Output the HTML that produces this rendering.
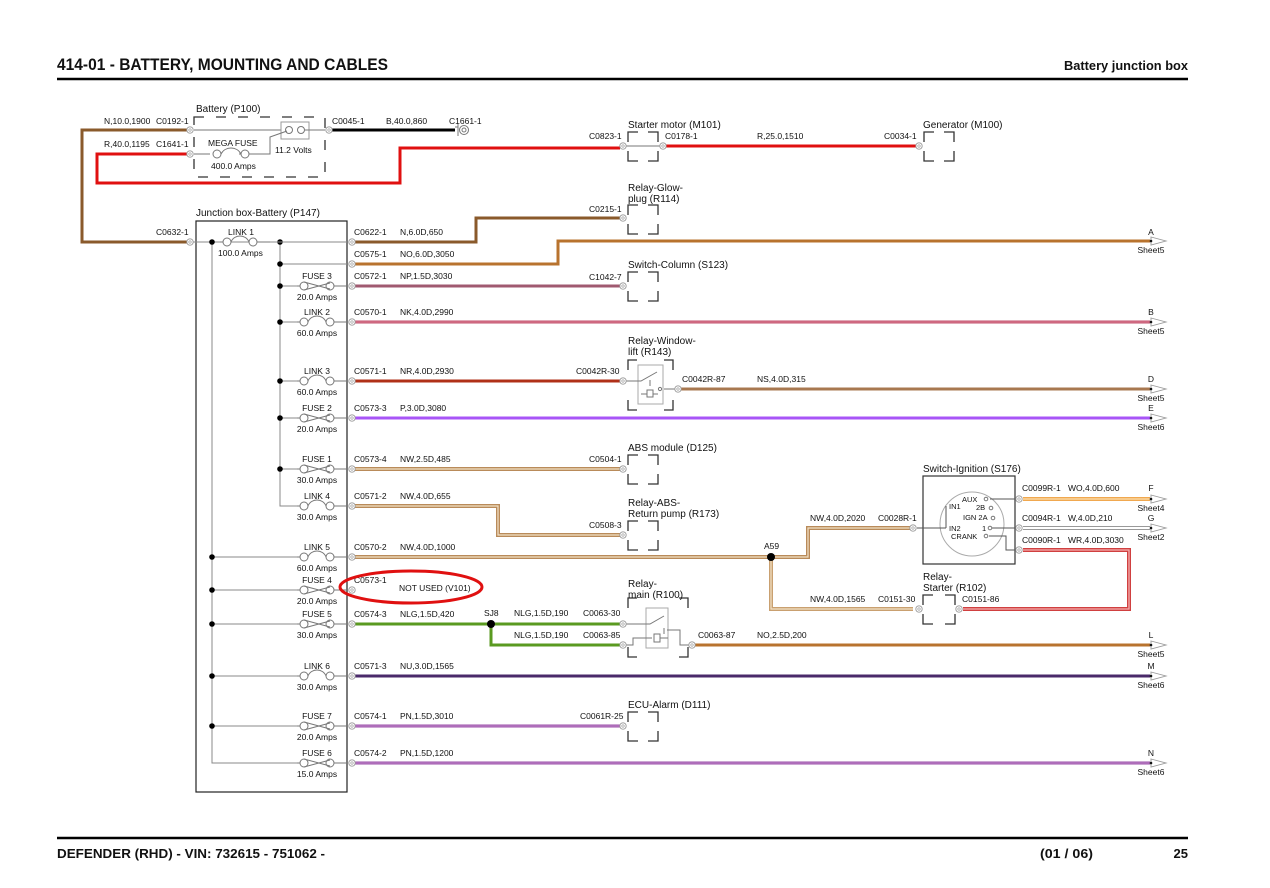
<!DOCTYPE html>
<html><head><meta charset="utf-8"><style>
html,body{margin:0;padding:0;background:#fff;}
svg{display:block;}
text{font-family:"Liberation Sans",sans-serif;fill:#111;}
.s{font-size:8.5px;}
.m{font-size:10px;}
.t{font-size:7.5px;}
.b{font-weight:bold;}
</style></head><body>
<svg width="1270" height="888" viewBox="0 0 1270 888" xmlns="http://www.w3.org/2000/svg">
<defs>
<g id="cn"><circle r="3.2" fill="#fff" stroke="#999" stroke-width="0.9"/><circle r="1.2" fill="none" stroke="#999" stroke-width="0.7"/></g>
<g id="fu"><line x1="-20" y1="0" x2="-17" y2="0" stroke="#777"/><circle cx="-13" cy="0" r="4" fill="#fff" stroke="#777"/><circle cx="13" cy="0" r="4" fill="#fff" stroke="#777"/><path d="M-13,-4 L13,3 M-13,4 L13,-3" stroke="#777" fill="none"/><line x1="17" y1="0" x2="30" y2="0" stroke="#777"/></g>
<g id="lk"><line x1="-20" y1="0" x2="-17" y2="0" stroke="#777"/><circle cx="-13" cy="0" r="4" fill="#fff" stroke="#777"/><circle cx="13" cy="0" r="4" fill="#fff" stroke="#777"/><path d="M-9,0 C-6,-8 6,-8 9,0" stroke="#777" fill="none"/><line x1="17" y1="0" x2="30" y2="0" stroke="#777"/></g>
<g id="ar"><path d="M0,-4 L15,0 L0,4 Z" fill="#fff" stroke="#999" stroke-width="0.9"/><circle r="1.3" fill="#111"/></g>
</defs>

<!-- header -->
<text x="57" y="70" font-size="17" class="b" textLength="331" lengthAdjust="spacingAndGlyphs">414-01 - BATTERY, MOUNTING AND CABLES</text>
<text x="1188" y="70" font-size="13" class="b" text-anchor="end" textLength="124" lengthAdjust="spacingAndGlyphs">Battery junction box</text>
<line x1="57" y1="79" x2="1188" y2="79" stroke="#000" stroke-width="2.6"/>
<!-- footer -->
<line x1="57" y1="838" x2="1188" y2="838" stroke="#000" stroke-width="2.6"/>
<text x="57" y="858" font-size="13" class="b" textLength="268" lengthAdjust="spacingAndGlyphs">DEFENDER  (RHD) - VIN: 732615 - 751062 -</text>
<text x="1040" y="858" font-size="13" class="b" textLength="53" lengthAdjust="spacingAndGlyphs">(01 / 06)</text>
<text x="1188" y="858" font-size="13" class="b" text-anchor="end">25</text>

<g fill="none" stroke-linejoin="miter">
<!-- top wires -->
<path d="M190,130 H82 V242 H190" stroke="#8a5a2b" stroke-width="3"/>
<path d="M190,154 H97 V183 H400 V148 H620" stroke="#e01010" stroke-width="3"/>
<path d="M329,130 H455" stroke="#000" stroke-width="3"/>
<path d="M663,146 H917" stroke="#e01010" stroke-width="3"/>
<!-- junction wires -->
<path d="M352,242 H476 V218 H620" stroke="#8a5a2b" stroke-width="3"/>
<path d="M352,264 H558 V241 H1150" stroke="#b8732e" stroke-width="3"/>
<path d="M352,286 H620" stroke="#a05a70" stroke-width="3"/>
<path d="M352,322 H1150" stroke="#c0506e" stroke-width="3"/>
<path d="M352,322 H1150" stroke="#e890a0" stroke-width="0.8"/>
<path d="M352,381 H620" stroke="#b03018" stroke-width="3"/>
<path d="M678,389 H1150" stroke="#a87850" stroke-width="3"/>
<path d="M352,418 H1150" stroke="#a855f7" stroke-width="3"/>
<path d="M352,469 H620" stroke="#b98b5a" stroke-width="4"/>
<path d="M352,506 H498 V535 H620" stroke="#b98b5a" stroke-width="4"/>
<path d="M352,557 H808 V528 H913" stroke="#b98b5a" stroke-width="4"/>
<path d="M771,557 V609 H913" stroke="#c9a070" stroke-width="4"/>
<path d="M352,469 H620 M352,506 H498 V535 H620 M352,557 H808 V528 H913 M771,557 V609 H913" stroke="#f3e2c8" stroke-width="1.2"/>
<path d="M352,624 H620" stroke="#5a9a20" stroke-width="3"/>
<path d="M491,624 V645 H620" stroke="#5a9a20" stroke-width="3"/>
<path d="M692,645 H1150" stroke="#b8732e" stroke-width="3"/>
<path d="M352,676 H1150" stroke="#4a2a6a" stroke-width="3"/>
<path d="M352,726 H620" stroke="#9b4fa8" stroke-width="3"/>
<path d="M352,763 H1150" stroke="#9b4fa8" stroke-width="3"/>
<path d="M352,726 H620 M352,763 H1150" stroke="#d0a0d8" stroke-width="0.7"/>
<!-- ignition outputs -->
<path d="M1023,499 H1150" stroke="#f0a850" stroke-width="4"/>
<path d="M1023,499 H1150" stroke="#fde0b0" stroke-width="1.2"/>
<path d="M1023,528 H1150" stroke="#999" stroke-width="4"/>
<path d="M1023,528 H1150" stroke="#fff" stroke-width="2"/>
<path d="M1023,550 H1129 V609 H963" stroke="#d04040" stroke-width="4"/>
<path d="M1023,550 H1129 V609 H963" stroke="#f5b0b0" stroke-width="1.3"/>
</g>

<!-- battery -->
<text x="196" y="112" class="m">Battery (P100)</text>
<path d="M194,117 h131 v60 h-131 z" fill="none" stroke="#333" stroke-width="1.3" stroke-dasharray="10 12"/>
<line x1="194" y1="130" x2="290" y2="130" stroke="#777"/>
<rect x="281" y="122" width="28" height="17" fill="#fff" stroke="#999"/>
<circle cx="289" cy="130" r="3.5" fill="none" stroke="#777"/><circle cx="301" cy="130" r="3.5" fill="none" stroke="#777"/>
<line x1="305" y1="130" x2="325" y2="130" stroke="#777"/>
<path d="M194,154 H210 M239,154 H270 V137 L287,131" fill="none" stroke="#777"/>
<circle cx="217" cy="154" r="4" fill="#fff" stroke="#777"/><circle cx="245" cy="154" r="4" fill="#fff" stroke="#777"/>
<path d="M221,154 C225,146 237,146 241,154" fill="none" stroke="#777"/>
<text x="208" y="146" class="s">MEGA FUSE</text>
<text x="211" y="169" class="s">400.0 Amps</text>
<text x="275" y="153" class="s">11.2 Volts</text>
<text x="104" y="124" class="s">N,10.0,1900</text><text x="156" y="124" class="s">C0192-1</text>
<text x="104" y="147" class="s">R,40.0,1195</text><text x="156" y="147" class="s">C1641-1</text>
<text x="332" y="124" class="s">C0045-1</text><text x="386" y="124" class="s">B,40.0,860</text><text x="449" y="124" class="s">C1661-1</text>
<path d="M455,127 h3 v-3 v12 M459,130" fill="none" stroke="#777"/><circle cx="464" cy="130" r="4.5" fill="#fff" stroke="#777"/><circle cx="464" cy="130" r="2" fill="none" stroke="#777"/>
<use href="#cn" x="190" y="130"/><use href="#cn" x="190" y="154"/><use href="#cn" x="329" y="130"/>

<!-- starter / generator -->
<text x="628" y="128" class="m">Starter motor (M101)</text>
<text x="923" y="128" class="m">Generator (M100)</text>
<g fill="none" stroke="#333" stroke-width="1.3">
<path d="M628,142 V132 H638 M648,132 H658 V142 M658,151 V161 H648 M638,161 H628 V151"/>
<path d="M924,142 V132 H934 M944,132 H954 V142 M954,151 V161 H944 M934,161 H924 V151"/>
<path d="M628,215 V205 H638 M648,205 H658 V215 M658,224 V234 H648 M638,234 H628 V224"/>
<path d="M628,282 V272 H638 M648,272 H658 V282 M658,291 V301 H648 M638,301 H628 V291"/>
<path d="M628,465 V455 H638 M648,455 H658 V465 M658,474 V484 H648 M638,484 H628 V474"/>
<path d="M628,531 V521 H638 M648,521 H658 V531 M658,540 V550 H648 M638,550 H628 V540"/>
<path d="M628,722 V712 H638 M648,712 H658 V722 M658,731 V741 H648 M638,741 H628 V731"/>
<path d="M923,605 V595 H933 M945,595 H955 V605 M955,614 V624 H945 M933,624 H923 V614"/>
<path d="M628,370 V360 H637 M664,360 H673 V370 M673,400 V410 H664 M637,410 H628 V400"/>
<path d="M628,608 V598 H637 M679,598 H688 V608 M688,647 V657 H679 M637,657 H628 V647"/>
</g>
<line x1="623" y1="146" x2="663" y2="146" stroke="#777"/>
<use href="#cn" x="623" y="146"/><use href="#cn" x="663" y="146"/><use href="#cn" x="919" y="146"/>
<text x="589" y="139" class="s">C0823-1</text><text x="665" y="139" class="s">C0178-1</text><text x="757" y="139" class="s">R,25.0,1510</text><text x="884" y="139" class="s">C0034-1</text>

<text x="628" y="191" class="m">Relay-Glow-</text><text x="628" y="202" class="m">plug (R114)</text>
<text x="589" y="212" class="s">C0215-1</text><use href="#cn" x="623" y="218"/>
<text x="628" y="268" class="m">Switch-Column (S123)</text>
<text x="589" y="280" class="s">C1042-7</text><use href="#cn" x="623" y="286"/>

<!-- window relay -->
<text x="628" y="344" class="m">Relay-Window-</text><text x="628" y="355" class="m">lift (R143)</text>
<rect x="638" y="365" width="25" height="39" fill="#fff" stroke="#aaa"/>
<path d="M623,381 H641 L657,372 M664,389 H678 M650,380 V386 M641,394 H647 M653,394 H658" fill="none" stroke="#777"/>
<rect x="647" y="390" width="6" height="7" fill="none" stroke="#777"/>
<circle cx="660" cy="389" r="1.6" fill="#fff" stroke="#777"/>
<text x="576" y="374" class="s">C0042R-30</text><use href="#cn" x="623" y="381"/>
<text x="682" y="382" class="s">C0042R-87</text><text x="757" y="382" class="s">NS,4.0D,315</text><use href="#cn" x="678" y="389"/>

<text x="628" y="451" class="m">ABS module (D125)</text>
<text x="589" y="462" class="s">C0504-1</text><use href="#cn" x="623" y="469"/>
<text x="628" y="506" class="m">Relay-ABS-</text><text x="628" y="517" class="m">Return pump (R173)</text>
<text x="589" y="528" class="s">C0508-3</text><use href="#cn" x="623" y="535"/>

<!-- A59 -->
<circle cx="771" cy="557" r="4" fill="#000"/>
<text x="764" y="549" class="s">A59</text>
<text x="810" y="521" class="s">NW,4.0D,2020</text><text x="878" y="521" class="s">C0028R-1</text><use href="#cn" x="913" y="528"/>
<text x="810" y="602" class="s">NW,4.0D,1565</text><text x="878" y="602" class="s">C0151-30</text><use href="#cn" x="919" y="609"/>
<text x="962" y="602" class="s">C0151-86</text><use href="#cn" x="959" y="609"/>
<text x="923" y="580" class="m">Relay-</text><text x="923" y="591" class="m">Starter (R102)</text>

<!-- ignition -->
<text x="923" y="472" class="m">Switch-Ignition (S176)</text>
<rect x="923" y="476" width="92" height="88" fill="#fff" stroke="#333" stroke-width="1.2"/>
<circle cx="972" cy="524" r="32" fill="none" stroke="#aaa"/>
<path d="M917,528 H946 M946,506 V528 M990,499 H1019 M990,528 H1019 M989,536 H1006 V550 H1019" fill="none" stroke="#555"/>
<text x="962" y="502" class="t">AUX</text><circle cx="986" cy="499" r="1.8" fill="#fff" stroke="#777"/>
<text x="976" y="510" class="t">2B</text><circle cx="991" cy="508" r="1.8" fill="#fff" stroke="#777"/>
<text x="949" y="509" class="t">IN1</text>
<text x="963" y="520" class="t">IGN 2A</text><circle cx="993" cy="518" r="1.8" fill="#fff" stroke="#777"/>
<text x="949" y="531" class="t">IN2</text>
<text x="982" y="531" class="t">1</text><circle cx="990" cy="528" r="1.8" fill="#fff" stroke="#777"/>
<text x="951" y="539" class="t">CRANK</text><circle cx="986" cy="536" r="1.8" fill="#fff" stroke="#777"/>
<use href="#cn" x="1019" y="499"/><use href="#cn" x="1019" y="528"/><use href="#cn" x="1019" y="550"/>
<text x="1022" y="491" class="s">C0099R-1</text><text x="1068" y="491" class="s">WO,4.0D,600</text>
<text x="1022" y="521" class="s">C0094R-1</text><text x="1068" y="521" class="s">W,4.0D,210</text>
<text x="1022" y="543" class="s">C0090R-1</text><text x="1068" y="543" class="s">WR,4.0D,3030</text>

<!-- relay main -->
<text x="628" y="587" class="m">Relay-</text><text x="628" y="598" class="m">main (R100)</text>
<rect x="646" y="608" width="22" height="40" fill="#fff" stroke="#aaa"/>
<path d="M623,624 H650 L664,616 M623,645 H633 V638 H652 M660,638 H668 M664,628 V634 M667,630 H680 V645 H692" fill="none" stroke="#777"/>
<rect x="654" y="634" width="6" height="8" fill="none" stroke="#777"/>
<use href="#cn" x="623" y="624"/><use href="#cn" x="623" y="645"/><use href="#cn" x="692" y="645"/>
<circle cx="491" cy="624" r="4" fill="#000"/>
<text x="484" y="616" class="s">SJ8</text>
<text x="514" y="616" class="s">NLG,1.5D,190</text><text x="583" y="616" class="s">C0063-30</text>
<text x="514" y="638" class="s">NLG,1.5D,190</text><text x="583" y="638" class="s">C0063-85</text>
<text x="698" y="638" class="s">C0063-87</text><text x="757" y="638" class="s">NO,2.5D,200</text>

<text x="628" y="708" class="m">ECU-Alarm (D111)</text>
<text x="580" y="719" class="s">C0061R-25</text><use href="#cn" x="623" y="726"/>

<!-- junction box -->
<text x="196" y="216" class="m">Junction box-Battery (P147)</text>
<rect x="196" y="221" width="151" height="571" fill="none" stroke="#222" stroke-width="1.2"/>
<path d="M190,242 H281 M212,242 V763 H297 M280,242 V506 H297 M280,264 H347" fill="none" stroke="#888"/>
<g fill="none" stroke="#888">
<path d="M212,557 H297 M212,590 H297 M212,624 H297 M212,676 H297 M212,726 H297 M280,286 H297 M280,322 H297 M280,381 H297 M280,418 H297 M280,469 H297"/>
</g>
<g fill="#000">
<circle cx="212" cy="242" r="2.8"/><circle cx="280" cy="242" r="2.8"/><circle cx="280" cy="264" r="2.8"/>
<circle cx="280" cy="286" r="2.8"/><circle cx="280" cy="322" r="2.8"/><circle cx="280" cy="381" r="2.8"/>
<circle cx="280" cy="418" r="2.8"/><circle cx="280" cy="469" r="2.8"/>
<circle cx="212" cy="557" r="2.8"/><circle cx="212" cy="590" r="2.8"/><circle cx="212" cy="624" r="2.8"/>
<circle cx="212" cy="676" r="2.8"/><circle cx="212" cy="726" r="2.8"/>
</g>
<use href="#lk" x="240" y="242"/><line x1="270" y1="242" x2="347" y2="242" stroke="#888"/>
<text x="228" y="235" class="s">LINK 1</text><text x="218" y="256" class="s">100.0 Amps</text>
<g>
<use href="#fu" x="317" y="286"/><use href="#lk" x="317" y="322"/><use href="#lk" x="317" y="381"/><use href="#fu" x="317" y="418"/>
<use href="#fu" x="317" y="469"/><use href="#lk" x="317" y="506"/><use href="#lk" x="317" y="557"/><use href="#fu" x="317" y="590"/>
<use href="#fu" x="317" y="624"/><use href="#lk" x="317" y="676"/><use href="#fu" x="317" y="726"/><use href="#fu" x="317" y="763"/>
</g>
<g class="s" text-anchor="middle">
<text x="317" y="279" class="s">FUSE 3</text><text x="317" y="300" class="s">20.0 Amps</text>
<text x="317" y="315" class="s">LINK 2</text><text x="317" y="336" class="s">60.0 Amps</text>
<text x="317" y="374" class="s">LINK 3</text><text x="317" y="395" class="s">60.0 Amps</text>
<text x="317" y="411" class="s">FUSE 2</text><text x="317" y="432" class="s">20.0 Amps</text>
<text x="317" y="462" class="s">FUSE 1</text><text x="317" y="483" class="s">30.0 Amps</text>
<text x="317" y="499" class="s">LINK 4</text><text x="317" y="520" class="s">30.0 Amps</text>
<text x="317" y="550" class="s">LINK 5</text><text x="317" y="571" class="s">60.0 Amps</text>
<text x="317" y="583" class="s">FUSE 4</text><text x="317" y="604" class="s">20.0 Amps</text>
<text x="317" y="617" class="s">FUSE 5</text><text x="317" y="638" class="s">30.0 Amps</text>
<text x="317" y="669" class="s">LINK 6</text><text x="317" y="690" class="s">30.0 Amps</text>
<text x="317" y="719" class="s">FUSE 7</text><text x="317" y="740" class="s">20.0 Amps</text>
<text x="317" y="756" class="s">FUSE 6</text><text x="317" y="777" class="s">15.0 Amps</text>
</g>
<text x="156" y="235" class="s">C0632-1</text>
<use href="#cn" x="190" y="242"/>
<g>
<use href="#cn" x="352" y="242"/><use href="#cn" x="352" y="264"/><use href="#cn" x="352" y="286"/><use href="#cn" x="352" y="322"/>
<use href="#cn" x="352" y="381"/><use href="#cn" x="352" y="418"/><use href="#cn" x="352" y="469"/><use href="#cn" x="352" y="506"/>
<use href="#cn" x="352" y="557"/><use href="#cn" x="352" y="590"/><use href="#cn" x="352" y="624"/><use href="#cn" x="352" y="676"/>
<use href="#cn" x="352" y="726"/><use href="#cn" x="352" y="763"/>
</g>
<g class="s">
<text x="354" y="235" class="s">C0622-1</text><text x="400" y="235" class="s">N,6.0D,650</text>
<text x="354" y="257" class="s">C0575-1</text><text x="400" y="257" class="s">NO,6.0D,3050</text>
<text x="354" y="279" class="s">C0572-1</text><text x="400" y="279" class="s">NP,1.5D,3030</text>
<text x="354" y="315" class="s">C0570-1</text><text x="400" y="315" class="s">NK,4.0D,2990</text>
<text x="354" y="374" class="s">C0571-1</text><text x="400" y="374" class="s">NR,4.0D,2930</text>
<text x="354" y="411" class="s">C0573-3</text><text x="400" y="411" class="s">P,3.0D,3080</text>
<text x="354" y="462" class="s">C0573-4</text><text x="400" y="462" class="s">NW,2.5D,485</text>
<text x="354" y="499" class="s">C0571-2</text><text x="400" y="499" class="s">NW,4.0D,655</text>
<text x="354" y="550" class="s">C0570-2</text><text x="400" y="550" class="s">NW,4.0D,1000</text>
<text x="354" y="583" class="s">C0573-1</text><text x="399" y="591" class="s">NOT USED (V101)</text>
<text x="354" y="617" class="s">C0574-3</text><text x="400" y="617" class="s">NLG,1.5D,420</text>
<text x="354" y="669" class="s">C0571-3</text><text x="400" y="669" class="s">NU,3.0D,1565</text>
<text x="354" y="719" class="s">C0574-1</text><text x="400" y="719" class="s">PN,1.5D,3010</text>
<text x="354" y="756" class="s">C0574-2</text><text x="400" y="756" class="s">PN,1.5D,1200</text>
</g>
<ellipse cx="411" cy="587" rx="71" ry="16" fill="none" stroke="#e01010" stroke-width="3"/>

<!-- off-sheet arrows -->
<g>
<use href="#ar" x="1151" y="241"/><use href="#ar" x="1151" y="322"/><use href="#ar" x="1151" y="389"/><use href="#ar" x="1151" y="418"/>
<use href="#ar" x="1151" y="499"/><use href="#ar" x="1151" y="528"/><use href="#ar" x="1151" y="645"/><use href="#ar" x="1151" y="676"/><use href="#ar" x="1151" y="763"/>
</g>
<g text-anchor="middle" class="s">
<text x="1151" y="235" class="s">A</text><text x="1151" y="253" class="s">Sheet5</text>
<text x="1151" y="315" class="s">B</text><text x="1151" y="334" class="s">Sheet5</text>
<text x="1151" y="382" class="s">D</text><text x="1151" y="401" class="s">Sheet5</text>
<text x="1151" y="411" class="s">E</text><text x="1151" y="430" class="s">Sheet6</text>
<text x="1151" y="491" class="s">F</text><text x="1151" y="511" class="s">Sheet4</text>
<text x="1151" y="521" class="s">G</text><text x="1151" y="540" class="s">Sheet2</text>
<text x="1151" y="638" class="s">L</text><text x="1151" y="657" class="s">Sheet5</text>
<text x="1151" y="669" class="s">M</text><text x="1151" y="688" class="s">Sheet6</text>
<text x="1151" y="756" class="s">N</text><text x="1151" y="775" class="s">Sheet6</text>
</g>
</svg>
</body></html>
